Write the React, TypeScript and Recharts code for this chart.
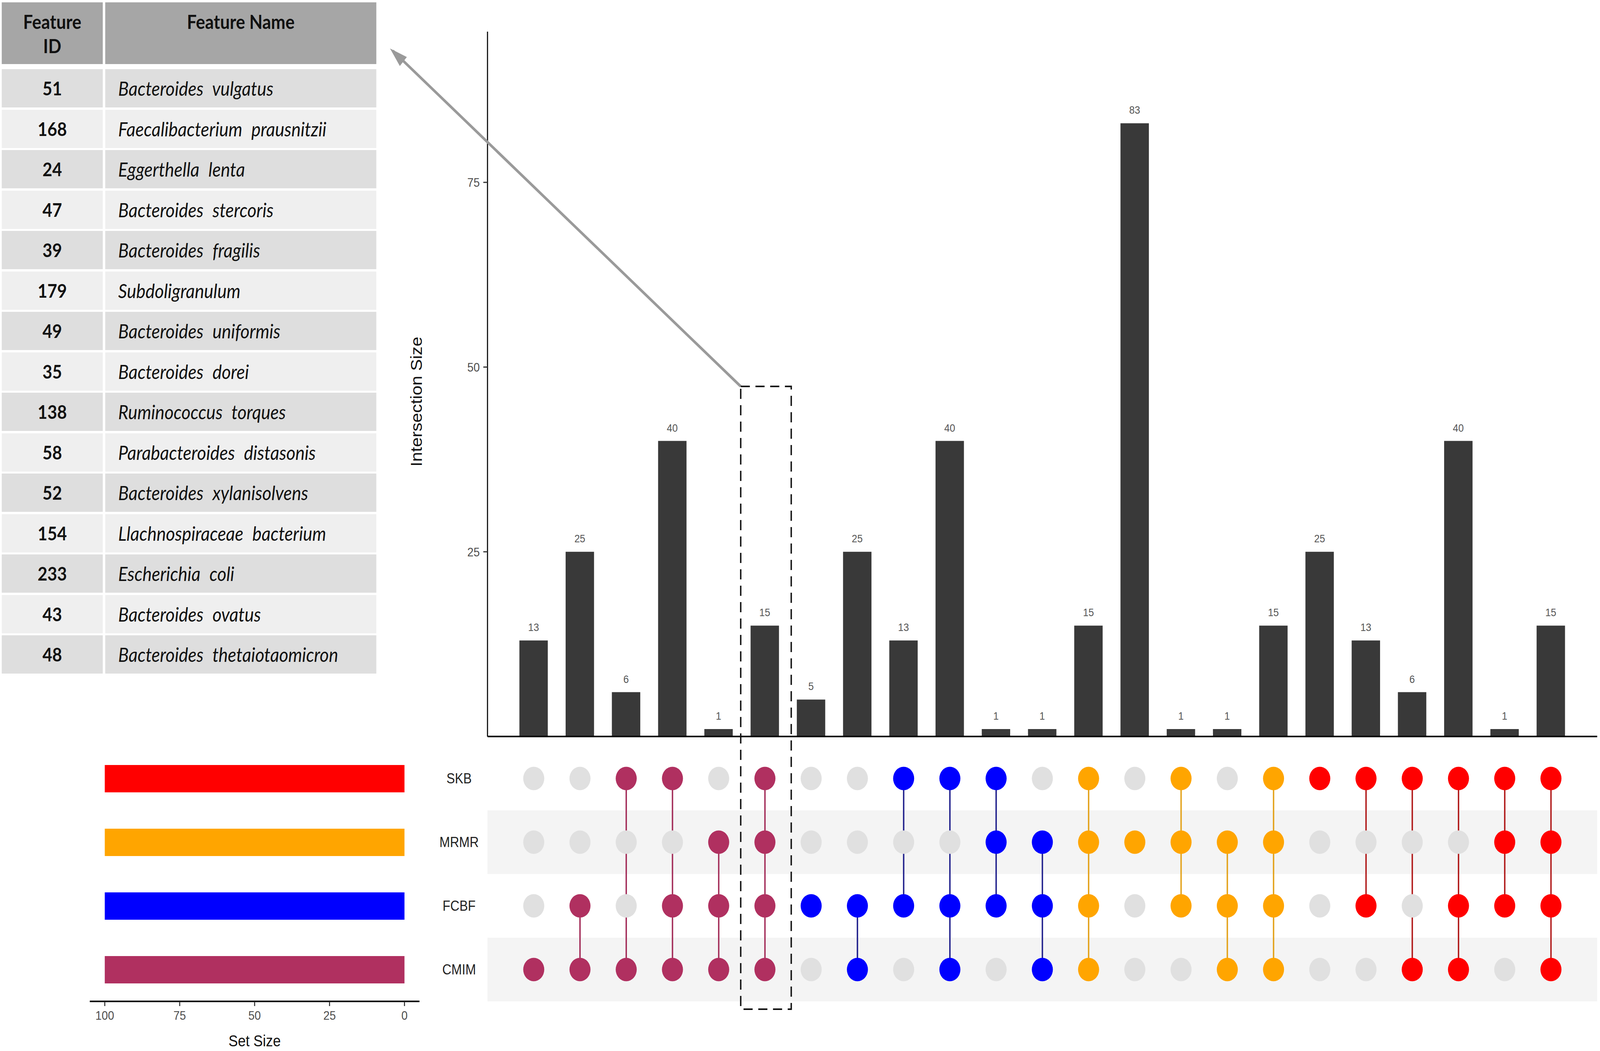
import React from 'react';
import {
  BarChart,
  Bar,
  XAxis,
  YAxis,
  LabelList,
  Label,
  ComposedChart,
  Line,
  ReferenceArea,
  Cell,
} from 'recharts';

// sets, top to bottom in the matrix
const sets = ['SKB', 'MRMR', 'FCBF', 'CMIM'];
const setSizes = [100, 100, 100, 100];
const setColors = ['#ff0000', '#ffa500', '#0000ff', '#b03060'];
const linkColors = ['#b01818', '#e3a21a', '#20208c', '#a32d59'];

const intersectionSizes = [13, 25, 6, 40, 1, 15, 5, 25, 13, 40, 1, 1, 15, 83, 1, 1, 15, 25, 13, 6, 40, 1, 15];
const intersectionMembers = [
  ['CMIM'], ['FCBF', 'CMIM'], ['SKB', 'CMIM'], ['SKB', 'FCBF', 'CMIM'], ['MRMR', 'FCBF', 'CMIM'], ['SKB', 'MRMR', 'FCBF', 'CMIM'],
  ['FCBF'], ['FCBF', 'CMIM'], ['SKB', 'FCBF'], ['SKB', 'FCBF', 'CMIM'], ['SKB', 'MRMR', 'FCBF'], ['MRMR', 'FCBF', 'CMIM'],
  ['SKB', 'MRMR', 'FCBF', 'CMIM'], ['MRMR'], ['SKB', 'MRMR', 'FCBF'], ['MRMR', 'FCBF', 'CMIM'], ['SKB', 'MRMR', 'FCBF', 'CMIM'],
  ['SKB'], ['SKB', 'FCBF'], ['SKB', 'CMIM'], ['SKB', 'FCBF', 'CMIM'], ['SKB', 'MRMR', 'FCBF'], ['SKB', 'MRMR', 'FCBF', 'CMIM'],
];
const intersectionGroups = [
  'CMIM', 'CMIM', 'CMIM', 'CMIM', 'CMIM', 'CMIM',
  'FCBF', 'FCBF', 'FCBF', 'FCBF', 'FCBF', 'FCBF',
  'MRMR', 'MRMR', 'MRMR', 'MRMR', 'MRMR',
  'SKB', 'SKB', 'SKB', 'SKB', 'SKB', 'SKB',
];
const sizeTicks = [0, 25, 50, 75];
const setSizeTicks = [0, 25, 50, 75, 100];
const shadedSets = ['MRMR', 'CMIM'];

const featureIds = [51, 168, 24, 47, 39, 179, 49, 35, 138, 58, 52, 154, 233, 43, 48];
const featureNames = [
  'Bacteroides vulgatus',
  'Faecalibacterium prausnitzii',
  'Eggerthella lenta',
  'Bacteroides stercoris',
  'Bacteroides fragilis',
  'Subdoligranulum',
  'Bacteroides uniformis',
  'Bacteroides dorei',
  'Ruminococcus torques',
  'Parabacteroides distasonis',
  'Bacteroides xylanisolvens',
  'Llachnospiraceae bacterium',
  'Escherichia coli',
  'Bacteroides ovatus',
  'Bacteroides thetaiotaomicron',
];

const rowOf = (s: string) => sets.length - sets.indexOf(s);

const columns = intersectionSizes.map((size, i) => {
  const rows = intersectionMembers[i].map(rowOf);
  return {
    pos: i + 1,
    size,
    members: intersectionMembers[i],
    group: intersectionGroups[i],
    link: rows.length > 1 ? [Math.min(...rows), Math.max(...rows)] : null,
  };
});

const setData = sets.map((s, i) => ({ set: s, size: setSizes[i], color: setColors[i] }));

const axisFont = '"Liberation Sans", Arial, sans-serif';
const W = 4562;
const H = 2690;
const PLOT_LEFT = 1390;
const PLOT_RIGHT = 4554;
const BASE_Y = 1885;
const MATRIX_TOP = 1911;
const MATRIX_BOTTOM = 2563;

function FeatureTable() {
  const rowTop = (i: number) => 177 + 103.5 * i;
  const head: React.CSSProperties = {
    position: 'absolute', top: 6, height: 158, background: '#a6a6a6', textAlign: 'center',
    fontWeight: 700, fontSize: 49, lineHeight: '62px', paddingTop: 18, boxSizing: 'border-box',
  };
  return (
    <div style={{ position: 'absolute', left: 0, top: 0, width: 1080, height: 1730, fontFamily: 'Lato, "Open Sans", sans-serif', color: '#111' }}>
      <div style={{ ...head, left: 5, width: 288 }}>
        Feature<br />ID
      </div>
      <div style={{ ...head, left: 300, width: 773 }}>Feature Name</div>
      {featureIds.map((id, i) => {
        const bg = i % 2 === 0 ? '#dedede' : '#efefef';
        return (
          <React.Fragment key={id}>
            <div style={{ position: 'absolute', left: 5, top: rowTop(i), width: 288, height: 98, background: bg, textAlign: 'center', fontWeight: 700, fontSize: 48, lineHeight: '98px' }}>
              {id}
            </div>
            <div style={{ position: 'absolute', left: 300, top: rowTop(i), width: 773, height: 98, background: bg, fontStyle: 'italic', fontSize: 50, lineHeight: '98px', paddingLeft: 37, boxSizing: 'border-box', wordSpacing: 14, whiteSpace: 'nowrap' }}>
              {featureNames[i]}
            </div>
          </React.Fragment>
        );
      })}
    </div>
  );
}

function IntersectionBars() {
  const yAxisWidth = 260;
  return (
    <div style={{ position: 'absolute', left: 0, top: 0 }}>
      <BarChart
        width={W}
        height={1900}
        data={columns}
        margin={{ top: 81, right: W - PLOT_RIGHT, left: PLOT_LEFT - yAxisWidth, bottom: 1900 - BASE_Y - 1 }}
      >
        <XAxis
          dataKey="pos"
          type="number"
          domain={[0, intersectionSizes.length + 1]}
          allowDataOverflow
          height={1}
          tick={false}
          tickLine={false}
          axisLine={{ stroke: '#000', strokeWidth: 4 }}
        />
        <YAxis
          type="number"
          domain={[0, 95.4]}
          ticks={sizeTicks}
          allowDataOverflow
          width={yAxisWidth}
          tickSize={12}
          tickMargin={10}
          tickLine={{ stroke: '#333', strokeWidth: 3 }}
          axisLine={{ stroke: '#000', strokeWidth: 3 }}
          tick={{ fill: '#4d4d4d', fontSize: 32, fontFamily: axisFont }}
        >
          <Label
            content={({ viewBox }: any) => {
              const cx = viewBox.x + 57;
              const cy = viewBox.y + viewBox.height / 2 + 45;
              return (
                <text x={cx} y={cy} transform={`rotate(-90, ${cx}, ${cy})`} textAnchor="middle" dominantBaseline="central" fontSize={45} fontFamily={axisFont} fill="#111">
                  Intersection Size
                </text>
              );
            }}
          />
        </YAxis>
        <Bar dataKey="size" fill="#393939" barSize={81} isAnimationActive={false}>
          <LabelList dataKey="size" position="top" offset={24} fill="#555" fontSize={28} fontFamily={axisFont} />
        </Bar>
      </BarChart>
    </div>
  );
}

function makeDot(setName: string, member: boolean) {
  return (props: any) => {
    const { cx, cy, payload, index } = props;
    const key = `${setName}-${member ? 'm' : 'n'}-${index}`;
    const isMember = payload.members.includes(setName);
    if (isMember !== member || cx == null || cy == null) return <g key={key} />;
    const fill = member ? setColors[sets.indexOf(payload.group)] : '#e0e0e0';
    return <circle key={key} cx={cx} cy={cy} r={30} fill={fill} />;
  };
}

function MembershipMatrix() {
  const yAxisWidth = 200;
  const height = 700;
  return (
    <div style={{ position: 'absolute', left: 0, top: MATRIX_TOP - 20 }}>
      <ComposedChart
        width={W}
        height={height}
        data={columns}
        margin={{ top: 20, right: W - PLOT_RIGHT, left: PLOT_LEFT - yAxisWidth, bottom: height - 20 - (MATRIX_BOTTOM - MATRIX_TOP) }}
      >
        <XAxis dataKey="pos" type="number" domain={[0, intersectionSizes.length + 1]} allowDataOverflow hide />
        <YAxis
          type="number"
          domain={[0.5, sets.length + 0.5]}
          ticks={sets.map(rowOf)}
          width={yAxisWidth}
          tickSize={0}
          tickMargin={0}
          tickLine={false}
          axisLine={false}
          tick={(p: any) => (
            <text x={p.x - 81} y={p.y} textAnchor="middle" dominantBaseline="central" fontSize={36} fontFamily={axisFont} fill="#222">
              {sets[sets.length - p.payload.value]}
            </text>
          )}
        />
        {shadedSets.map((s) => (
          <ReferenceArea
            key={s}
            x1={0}
            x2={intersectionSizes.length + 1}
            y1={rowOf(s) - 0.5}
            y2={rowOf(s) + 0.5}
            fill="#f4f4f4"
            fillOpacity={1}
            stroke="none"
            ifOverflow="extendDomain"
          />
        ))}
        {sets.map((s) => (
          <Line
            key={`grey-${s}`}
            dataKey={() => rowOf(s)}
            stroke="none"
            dot={makeDot(s, false)}
            activeDot={false}
            isAnimationActive={false}
          />
        ))}
        <Bar dataKey="link" barSize={4} isAnimationActive={false}>
          {columns.map((c) => (
            <Cell key={c.pos} fill={linkColors[sets.indexOf(c.group)]} />
          ))}
        </Bar>
        {sets.map((s) => (
          <Line
            key={`col-${s}`}
            dataKey={() => rowOf(s)}
            stroke="none"
            dot={makeDot(s, true)}
            activeDot={false}
            isAnimationActive={false}
          />
        ))}
      </ComposedChart>
    </div>
  );
}

function SetSizeBars() {
  const height = 800;
  const xAxisHeight = 120;
  const plotH = MATRIX_BOTTOM - MATRIX_TOP;
  return (
    <div style={{ position: 'absolute', left: 0, top: MATRIX_TOP - 20 }}>
      <BarChart
        width={1300}
        height={height}
        data={setData}
        layout="vertical"
        margin={{ top: 20, left: 256, right: 1300 - 1196, bottom: height - 20 - plotH - xAxisHeight }}
      >
        <XAxis
          type="number"
          domain={[-5, 105]}
          ticks={setSizeTicks}
          reversed
          allowDataOverflow
          height={xAxisHeight}
          tickSize={12}
          tickMargin={12}
          tickLine={{ stroke: '#333', strokeWidth: 3 }}
          axisLine={{ stroke: '#000', strokeWidth: 4 }}
          tick={{ fill: '#4d4d4d', fontSize: 32, fontFamily: axisFont }}
        >
          <Label value="Set Size" position="insideBottom" offset={5} fontSize={40} fontFamily={axisFont} fill="#111" />
        </XAxis>
        <YAxis type="category" dataKey="set" hide />
        <Bar dataKey="size" barSize={70} isAnimationActive={false}>
          {setData.map((d) => (
            <Cell key={d.set} fill={d.color} />
          ))}
        </Bar>
      </BarChart>
    </div>
  );
}

function Annotations() {
  return (
    <svg width={W} height={H} style={{ position: 'absolute', left: 0, top: 0, pointerEvents: 'none' }}>
      <line x1={2112} y1={989} x2={1120} y2={130} stroke="#9a9a9a" strokeWidth={7} />
      <path d="M1112,124 L1160,146 L1140,169 z" fill="#9a9a9a" />
      <rect x={2112} y={989} width={144} height={1594} fill="none" stroke="#111" strokeWidth={4} strokeDasharray="26 16" />
    </svg>
  );
}

export default function App() {
  // the page may be narrower than the figure; fit the figure to the viewport
  const vw = window.innerWidth || W;
  const vh = window.innerHeight || H;
  const sx = vw / W;
  const sy = vh / H;
  return (
    <div style={{ position: 'absolute', left: 0, top: 0, width: vw, height: vh, overflow: 'hidden', background: '#fff' }}>
      <div style={{ position: 'absolute', left: 0, top: 0, width: W, height: H, background: '#fff', transform: `scale(${sx}, ${sy})`, transformOrigin: '0 0' }}>
        <FeatureTable />
        <IntersectionBars />
        <SetSizeBars />
        <MembershipMatrix />
        <Annotations />
      </div>
    </div>
  );
}
